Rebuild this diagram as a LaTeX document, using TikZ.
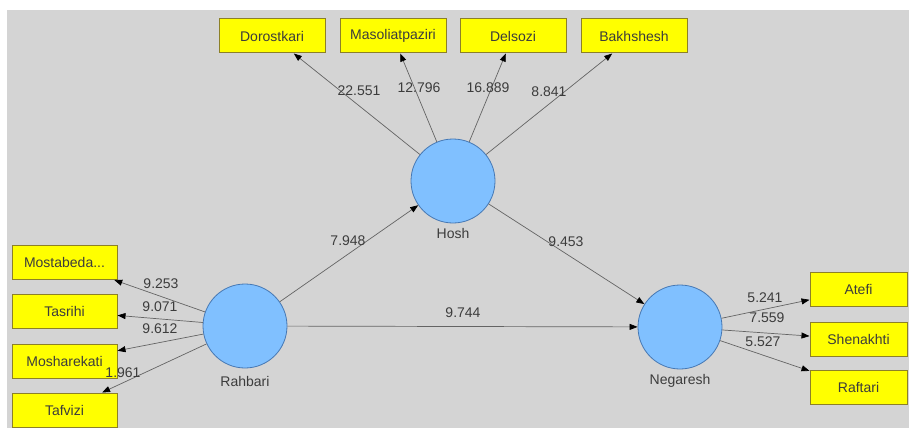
\documentclass[tikz,border=0pt]{standalone}
\usepackage{fontspec}
\setmainfont{Liberation Sans}
\usetikzlibrary{arrows.meta}
\definecolor{bgc}{RGB}{212,212,212}
\definecolor{boxfill}{RGB}{255,255,0}
\definecolor{boxline}{RGB}{140,128,40}
\definecolor{circfill}{RGB}{128,192,255}
\definecolor{circline}{RGB}{70,120,180}
\definecolor{edgec}{RGB}{100,100,100}
\definecolor{txt}{RGB}{60,60,60}
\tikzset{
  ind/.style={draw=boxline, fill=boxfill, line width=1pt, minimum width=106pt, minimum height=34pt, inner sep=0pt, text=txt, font=\fontsize{14}{16}\selectfont},
  lat/.style={circle, draw=circline, fill=circfill, line width=0.8pt, minimum size=84pt, inner sep=0pt},
  latlab/.style={text=txt, font=\fontsize{14}{16}\selectfont, inner sep=0pt},
  val/.style={text=txt, font=\fontsize{14}{16}\selectfont, inner sep=0pt},
  conn/.style={draw=edgec, line width=0.7pt, -{Triangle[length=8pt,width=6pt,color=black]}}
}
\begin{document}
\begin{tikzpicture}[x=1pt,y=-1pt]
\useasboundingbox (0,0) rectangle (909,428);
\fill[white] (0,0) rectangle (909,428);
\fill[bgc] (7,10) rectangle (909,428);
% latent variables
\node[lat] (hosh) at (453,181) {};
\node[lat] (rahbari) at (245,326) {};
\node[lat] (negaresh) at (680,327) {};
\node[latlab] (hoshl) at (453,233) {Hosh};
\node[latlab] (rahbaril) at (245,381) {Rahbari};
\node[latlab] (negareshl) at (680,381) {Negaresh};
% top indicators
\node[ind] (dor) at (272,36) {Dorostkari};
\node[ind] (mas) at (393,36) {Masoliatpaziri};
\node[ind] (del) at (513,36) {Delsozi};
\node[ind] (bak) at (634,36) {Bakhshesh};
% left indicators
\node[ind, minimum width=105pt] (mos) at (64.5,262.5) {Mostabeda...};
\node[ind, minimum width=105pt] (tas) at (64.5,311) {Tasrihi};
\node[ind, minimum width=105pt] (msh) at (64.5,361) {Mosharekati};
\node[ind, minimum width=105pt] (taf) at (64.5,410) {Tafvizi};
% right indicators
\node[ind, minimum width=97pt] (ate) at (858.5,289.5) {Atefi};
\node[ind, minimum width=97pt] (she) at (858.5,339.5) {Shenakhti};
\node[ind, minimum width=97pt] (raf) at (858.5,387.5) {Raftari};
% connectors
\draw[conn] (hosh) -- (dor);
\draw[conn] (hosh) -- (mas);
\draw[conn] (hosh) -- (del);
\draw[conn] (hosh) -- (bak);
\draw[conn] (rahbari) -- (mos);
\draw[conn] (rahbari) -- (tas);
\draw[conn] (rahbari) -- (msh);
\draw[conn] (rahbari) -- (taf);
\draw[conn] (negaresh) -- (ate);
\draw[conn] (negaresh) -- (she);
\draw[conn] (negaresh) -- (raf);
\draw[conn] (rahbari) -- (hosh);
\draw[conn] (hosh) -- (negaresh);
\draw[conn] (rahbari) -- (negaresh);
% values
\node[val] (v1) at (359,91) {22.551};
\node[val] (v2) at (419,88) {12.796};
\node[val] (v3) at (488,88) {16.889};
\node[val] (v4) at (549,92) {8.841};
\node[val] (v5) at (348,241) {7.948};
\node[val] (v6) at (566,242) {9.453};
\node[val] (v7) at (463,313) {9.744};
\node[val] (v8) at (161,284) {9.253};
\node[val] (v9) at (160,307) {9.071};
\node[val] (v10) at (160,329) {9.612};
\node[val] (v11) at (123,373) {1.961};
\node[val] (v12) at (765,298) {5.241};
\node[val] (v13) at (767,318) {7.559};
\node[val] (v14) at (763,342) {5.527};
\end{tikzpicture}
\end{document}
